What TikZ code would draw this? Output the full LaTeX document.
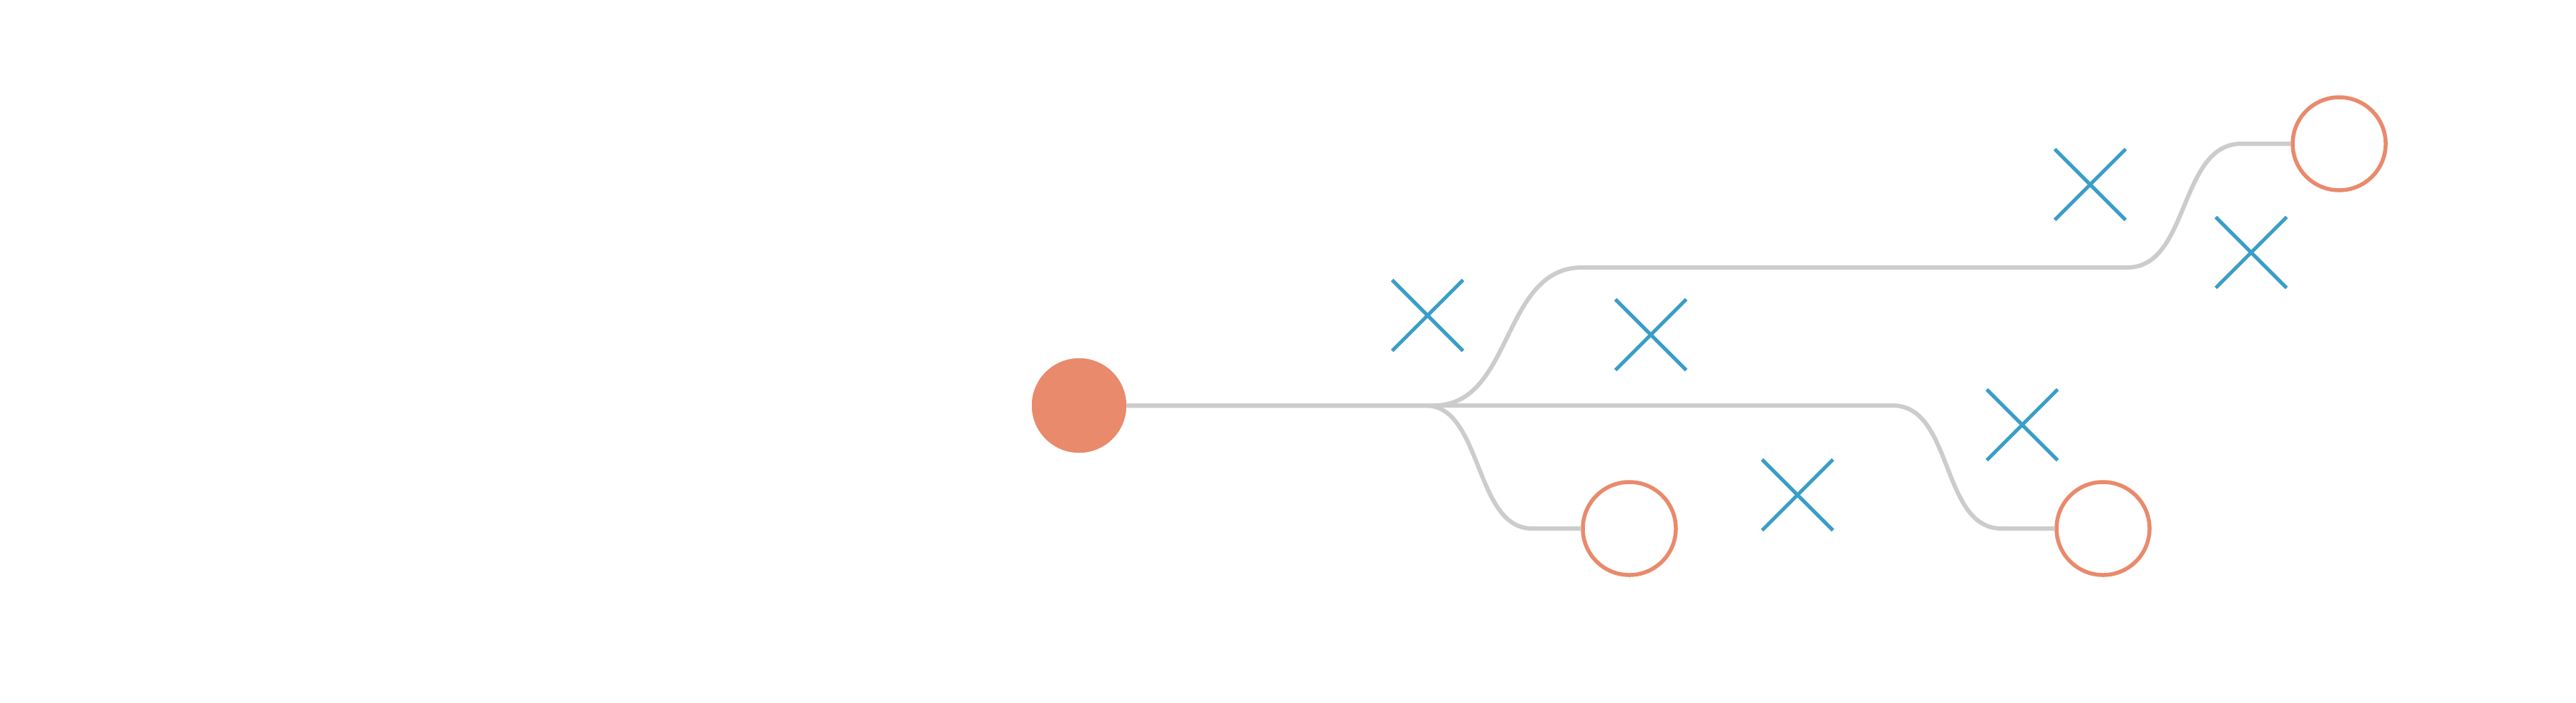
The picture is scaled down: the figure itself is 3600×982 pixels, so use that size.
\documentclass[tikz,border=0pt]{standalone}
\usetikzlibrary{shapes.misc}
\definecolor{nodeorange}{HTML}{E98A6C}
\definecolor{crossblue}{HTML}{3A9EC7}
\definecolor{linkgray}{HTML}{CCCCCC}
\tikzset{
  rootnode/.style={circle, fill=nodeorange, draw=none, minimum size=13.2mm, inner sep=0pt},
  leafnode/.style={circle, draw=nodeorange, fill=white, line width=0.55mm, minimum size=13.0mm, inner sep=0pt},
  crossmark/.style={cross out, draw=crossblue, line width=0.5mm, minimum size=9.4mm, inner sep=0pt},
  link/.style={draw=linkgray, line width=0.6mm}
}
\begin{document}
\begin{tikzpicture}[x=0.1mm,y=-0.1mm]
\useasboundingbox (0,0) rectangle (3600,982);
% link bend points
\coordinate (ja) at (1992,567);
\coordinate (jb) at (2141,739);
\coordinate (jc) at (2645,567);
\coordinate (jd) at (2797,739);
\coordinate (je) at (2004,567);
\coordinate (jf) at (2211,374);
\coordinate (jg) at (2973,374);
\coordinate (jh) at (3132,201);
\node[rootnode] (root) at (1508,567) {};
\node[leafnode] (leafA) at (2277,739) {};
\node[leafnode] (leafB) at (2939,739) {};
\node[leafnode] (leafC) at (3269,201) {};
\draw[link] (root.east) -- (ja) .. controls (2072,567) and (2060,739) .. (jb) -- (leafA.west);
\draw[link] (root.east) -- (jc) .. controls (2730,567) and (2712,739) .. (jd) -- (leafB.west);
\draw[link] (root.east) -- (je) .. controls (2115,567) and (2098,374) .. (jf) -- (jg) .. controls (3060,374) and (3045,201) .. (jh) -- (leafC.west);
\node[rootnode] at (root) {};
% crosses
\node[crossmark] (xa) at (1995,441) {};
\node[crossmark] (xb) at (2307,468) {};
\node[crossmark] (xc) at (2921,258) {};
\node[crossmark] (xd) at (3146,353) {};
\node[crossmark] (xe) at (2826,594) {};
\node[crossmark] (xf) at (2512,692) {};
\end{tikzpicture}
\end{document}
